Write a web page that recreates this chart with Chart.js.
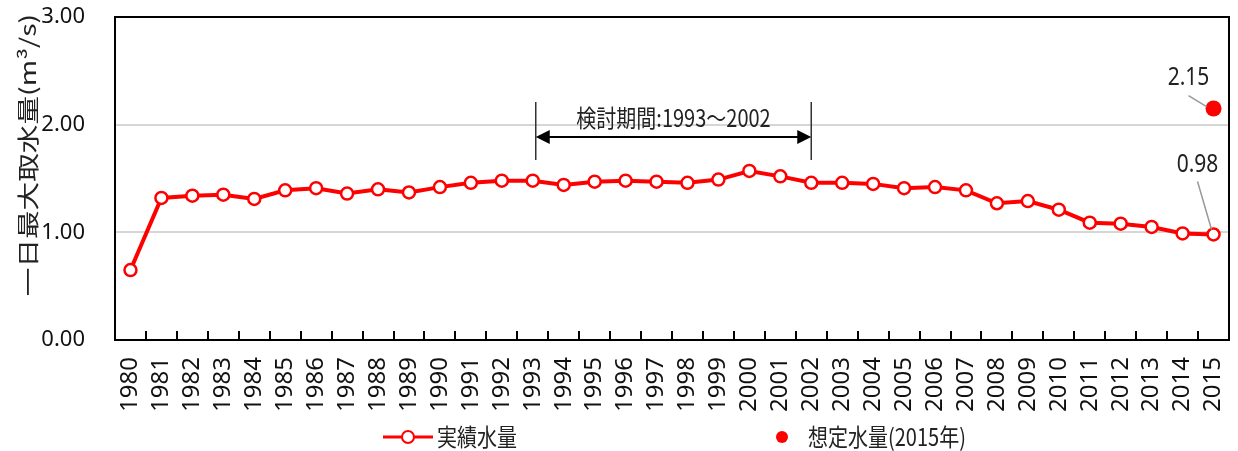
<!DOCTYPE html>
<html>
<head>
<meta charset="utf-8">
<script src="https://cdn.jsdelivr.net/npm/chart.js@4.4.1/dist/chart.umd.min.js"></script>
<style>
html, body { margin: 0; padding: 0; background: #fff; }
#wrap { width: 1238px; height: 451px; }
</style>
</head>
<body>
<div id="wrap"><canvas id="chart"></canvas></div>
<script>
// data
const years = ['1980', '1981', '1982', '1983', '1984', '1985', '1986', '1987', '1988', '1989',
               '1990', '1991', '1992', '1993', '1994', '1995', '1996', '1997', '1998', '1999',
               '2000', '2001', '2002', '2003', '2004', '2005', '2006', '2007', '2008', '2009',
               '2010', '2011', '2012', '2013', '2014', '2015'];
const actual = [0.65, 1.32, 1.34, 1.35, 1.31, 1.39, 1.41, 1.36, 1.40, 1.37,
                1.42, 1.46, 1.48, 1.48, 1.44, 1.47, 1.48, 1.47, 1.46, 1.49,
                1.57, 1.52, 1.46, 1.46, 1.45, 1.41, 1.42, 1.39, 1.27, 1.29,
                1.21, 1.09, 1.08, 1.05, 0.99, 0.98];
const planned = [null, null, null, null, null, null, null, null, null, null,
                 null, null, null, null, null, null, null, null, null, null,
                 null, null, null, null, null, null, null, null, null, null,
                 null, null, null, null, null, 2.15];
const yTicks = [0, 1, 2, 3];
const yTitle = '一日最大取水量(m³/s)';
const periodText = '検討期間:1993～2002';
const periodFrom = '1993';
const periodTo = '2002';
const legendNames = ['実績水量', '想定水量(2015年)'];

const RED = '#ff0000';
const SANS = "'Noto Sans', 'Noto Sans CJK JP', sans-serif";
const CJK = "'Noto Sans CJK JP', 'Noto Sans', sans-serif";

// the original text is a bit taller than wide, stretch it vertically
function tallText(ctx, text, x, y, sy) {
    ctx.save();
    ctx.translate(x, y);
    ctx.scale(1, sy);
    ctx.fillText(text, 0, 0);
    ctx.restore();
}

function arrowHead(ctx, x, y, dir) {
    ctx.beginPath();
    ctx.moveTo(x, y);
    ctx.lineTo(x - dir * 14, y - 7);
    ctx.lineTo(x - dir * 14, y + 7);
    ctx.closePath();
    ctx.fill();
}

const overlay = {
    id: 'overlay',
    afterDraw(chart) {
        const { ctx, chartArea: a, scales: { x, y } } = chart;
        ctx.save();

        // category tick marks, pointing up into the plot
        ctx.strokeStyle = '#000';
        ctx.lineWidth = 2;
        ctx.beginPath();
        for (let i = 1; i < years.length; i++) {
            const tx = Math.round((x.getPixelForValue(i - 1) + x.getPixelForValue(i)) / 2);
            ctx.moveTo(tx, a.bottom);
            ctx.lineTo(tx, a.bottom - 9);
        }
        ctx.stroke();

        // frame round the plot
        ctx.lineWidth = 2;
        ctx.strokeRect(a.left, a.top, a.right - a.left, a.bottom - a.top);

        // y axis title
        ctx.fillStyle = '#222';
        ctx.font = '22px ' + CJK;
        ctx.textAlign = 'center';
        ctx.textBaseline = 'middle';
        ctx.save();
        ctx.translate(28, 155);
        ctx.rotate(-Math.PI / 2);
        ctx.scale(1.3, 1);
        ctx.fillText(yTitle, 0, 0);
        ctx.restore();

        // study period bracket
        const x0 = x.getPixelForValue(years.indexOf(periodFrom)) + 3;
        const x1 = x.getPixelForValue(years.indexOf(periodTo));
        const yTop = a.top + 85, yBot = a.top + 143, yArr = a.top + 120;
        ctx.strokeStyle = '#333';
        ctx.lineWidth = 1.5;
        ctx.beginPath();
        ctx.moveTo(x0, yTop); ctx.lineTo(x0, yBot);
        ctx.moveTo(x1, yTop); ctx.lineTo(x1, yBot);
        ctx.stroke();
        ctx.strokeStyle = '#000';
        ctx.lineWidth = 2;
        ctx.beginPath();
        ctx.moveTo(x0 + 8, yArr); ctx.lineTo(x1 - 8, yArr);
        ctx.stroke();
        ctx.fillStyle = '#000';
        arrowHead(ctx, x0, yArr, -1);
        arrowHead(ctx, x1, yArr, 1);
        ctx.fillStyle = '#222';
        ctx.font = '20px ' + CJK;
        tallText(ctx, periodText, (x0 + x1) / 2, a.top + 101, 1.2);

        // value labels with leader lines
        const last = years.length - 1;
        const px = x.getPixelForValue(last);
        const pyPlan = y.getPixelForValue(planned[last]);
        const pyAct = y.getPixelForValue(actual[last]);
        ctx.strokeStyle = '#999';
        ctx.lineWidth = 1.5;
        ctx.beginPath();
        ctx.moveTo(px - 25, pyPlan - 13); ctx.lineTo(px - 7, pyPlan - 2);
        ctx.moveTo(px - 16, pyAct - 53); ctx.lineTo(px - 2, pyAct - 5);
        ctx.stroke();
        ctx.fillStyle = '#222';
        ctx.font = '21px ' + SANS;
        tallText(ctx, planned[last].toFixed(2), px - 25, pyPlan - 31, 1.2);
        tallText(ctx, actual[last].toFixed(2), px - 16, pyAct - 70, 1.2);

        // legend
        const ly = 437;
        ctx.strokeStyle = RED;
        ctx.lineWidth = 3;
        ctx.beginPath();
        ctx.moveTo(383, ly); ctx.lineTo(433, ly);
        ctx.stroke();
        ctx.fillStyle = '#fff';
        ctx.lineWidth = 2;
        ctx.beginPath();
        ctx.arc(408, ly, 6, 0, Math.PI * 2);
        ctx.fill();
        ctx.stroke();
        ctx.fillStyle = RED;
        ctx.beginPath();
        ctx.arc(782, ly, 6, 0, Math.PI * 2);
        ctx.fill();
        ctx.fillStyle = '#222';
        ctx.font = '20px ' + CJK;
        ctx.textAlign = 'left';
        tallText(ctx, legendNames[0], 437, ly, 1.2);
        tallText(ctx, legendNames[1], 808, ly, 1.2);

        ctx.restore();
    }
};

new Chart(document.getElementById('chart'), {
    type: 'line',
    data: {
        labels: years,
        datasets: [{
            label: legendNames[0],
            data: actual,
            borderColor: RED,
            borderWidth: 4,
            pointRadius: 6,
            pointBackgroundColor: '#fff',
            pointBorderColor: RED,
            pointBorderWidth: 2.5,
            tension: 0
        }, {
            label: legendNames[1],
            data: planned,
            showLine: false,
            pointRadius: 8,
            pointBackgroundColor: RED,
            pointBorderColor: RED,
            pointBorderWidth: 0
        }]
    },
    options: {
        responsive: true,
        maintainAspectRatio: false,
        animation: false,
        layout: { padding: { top: 17, right: 9, left: 0, bottom: 0 } },
        plugins: {
            legend: { display: false },
            tooltip: { enabled: false }
        },
        scales: {
            x: {
                offset: true,
                afterFit(scale) {
                    scale.height = 111;
                    scale.paddingLeft = 0;
                    scale.paddingRight = 0;
                },
                grid: { display: false, drawTicks: false },
                border: { color: '#000', width: 2 },
                ticks: {
                    minRotation: 90,
                    maxRotation: 90,
                    autoSkip: false,
                    padding: 17,
                    color: '#111',
                    font: { family: SANS, size: 24 }
                }
            },
            y: {
                min: 0,
                max: 3,
                afterFit(scale) {
                    scale.width = 115;
                    scale.paddingTop = 0;
                    scale.paddingBottom = 0;
                },
                afterBuildTicks(scale) { scale.ticks = yTicks.map(v => ({ value: v })); },
                grid: { color: '#d6d6d6', lineWidth: 2, drawTicks: false },
                border: { color: '#000', width: 2 },
                ticks: {
                    padding: 30,
                    color: '#111',
                    font: { family: SANS, size: 22 },
                    callback: v => Number(v).toFixed(2)
                }
            }
        }
    },
    plugins: [overlay]
});
</script>
</body>
</html>
